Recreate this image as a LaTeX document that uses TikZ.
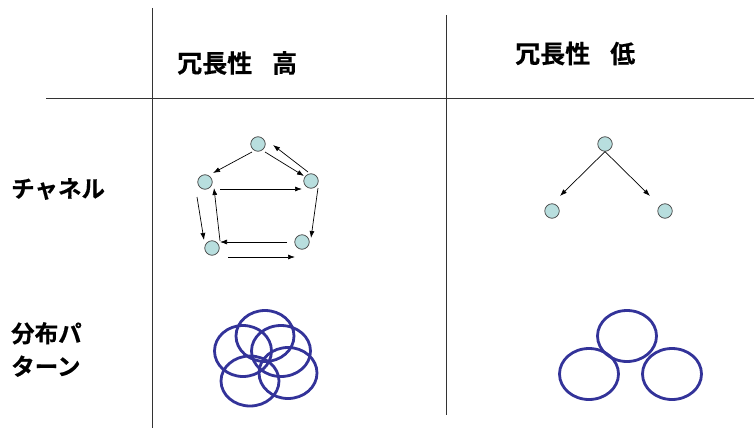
\documentclass[tikz,border=0pt]{standalone}
\usepackage{fontspec}
\newfontfamily\jp[BoldFont={Noto Sans CJK JP Bold}, BoldFeatures={FakeBold=0.5}]{Noto Sans CJK JP}
\usetikzlibrary{arrows.meta,calc}
\definecolor{nodefill}{HTML}{B8DEDE}
\definecolor{ringblue}{HTML}{333399}
\tikzset{
  grid/.style={draw=black!80, line width=0.9pt},
  dot/.style={circle, draw=black!75, fill=nodefill, line width=0.7pt, minimum size=14.5pt, inner sep=0pt},
  arr/.style={draw=black, line width=0.7pt, -{Latex[length=7pt,width=5pt]}},
  ring/.style={draw=ringblue, line width=2.8pt},
  lbl/.style={font=\jp\bfseries\fontsize{23.5}{33}\selectfont, inner sep=0pt, text=black},
  head/.style={font=\jp\bfseries\fontsize{25}{30}\selectfont, inner sep=0pt, text=black}
}
\begin{document}
\begin{tikzpicture}[x=1pt,y=-1pt]
\useasboundingbox (0,0) rectangle (754,428);
% grid lines
\coordinate (v1t) at (152,8);  \coordinate (v1b) at (152,428);
\coordinate (v2t) at (446,15); \coordinate (v2b) at (446,415);
\coordinate (hl) at (46,98);   \coordinate (hr) at (754,98);
\draw[grid] (v1t) -- (v1b);
\draw[grid] (v2t) -- (v2b);
\draw[grid] (hl) -- (hr);
% headers
\node[head, anchor=west] (h1) at (177,63) {冗長性\hspace{20pt}高};
\node[head, anchor=west] (h2) at (515,53.5) {冗長性\hspace{20pt}低};
\node[lbl, anchor=west] (r1) at (11,189) {チャネル};
\node[lbl, anchor=west, align=left] (r2) at (11,349.5) {分布パ\\ターン};
% left channel graph
\node[dot] (T)  at (258,144) {};
\node[dot] (L)  at (205,182) {};
\node[dot] (R)  at (311,181) {};
\node[dot] (BL) at (212,248) {};
\node[dot] (BR) at (302,242) {};
\draw[arr] ($(T)+(-6,8)$) -- ($(L)+(8,-9)$);
\draw[arr] ($(T)+(7,8)$) -- ($(R)+(-7,-5)$);
\draw[arr] ($(R)+(-3,-9)$) -- ($(T)+(15,1)$);
\draw[arr] ($(L)+(15,7)$) -- ($(R)+(-9,8)$);
\draw[arr] ($(L)+(-8,15)$) -- ($(BL)+(-8,-8)$);
\draw[arr] ($(BL)+(8,-7)$) -- ($(L)+(9,6)$);
\draw[arr] ($(R)+(7,7)$) -- ($(BR)+(9,-4)$);
\draw[arr] ($(BR)+(-15,0)$) -- ($(BL)+(8,-6)$);
\draw[arr] ($(BL)+(16,9)$) -- ($(BR)+(-7,15)$);
% right channel graph
\node[dot] (T2) at (605,144) {};
\node[dot] (L2) at (552,211) {};
\node[dot] (R2) at (665,211) {};
\draw[arr] (T2.south) -- ($(L2)+(8,-15)$);
\draw[arr] (T2.south) -- ($(R2)+(-15,-15)$);
% distribution rings, high redundancy
\draw[ring] (265,336) ellipse [x radius=29, y radius=25.5];
\draw[ring] (243,351) ellipse [x radius=28.5, y radius=25.5];
\draw[ring] (281,351) ellipse [x radius=29.5, y radius=25.5];
\draw[ring] (250,381) ellipse [x radius=29, y radius=25];
\draw[ring] (288,373) ellipse [x radius=29, y radius=25.5];
% distribution rings, low redundancy
\draw[ring] (627,336) ellipse [x radius=29.5, y radius=25.5];
\draw[ring] (589,374) ellipse [x radius=29.5, y radius=25.5];
\draw[ring] (672,374) ellipse [x radius=29.5, y radius=25.5];
\end{tikzpicture}
\end{document}
